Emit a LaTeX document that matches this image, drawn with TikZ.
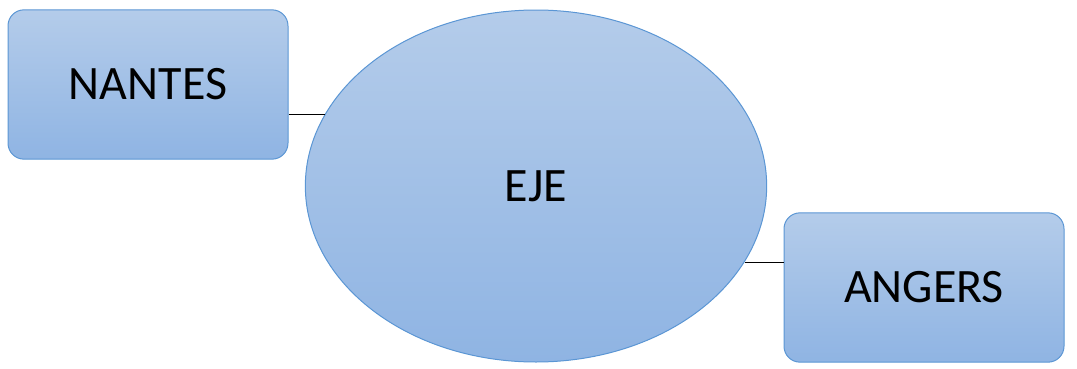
\documentclass[tikz,border=0pt]{standalone}
\usepackage{fontspec}
\setmainfont{Carlito}
\usepackage{xcolor}
\usepackage{tikz}
\usetikzlibrary{positioning, calc, shapes.geometric}
\definecolor{boxtop}{RGB}{180,204,234}
\definecolor{boxbottom}{RGB}{143,180,227}
\definecolor{boxline}{RGB}{91,150,212}

\begin{document}
\begin{tikzpicture}[x=0.75pt, y=-0.75pt, font=\fontsize{36}{43}\selectfont,
    city/.style={rectangle, rounded corners=12pt, draw=boxline, line width=0.75pt,
      top color=boxtop, bottom color=boxbottom, minimum width=210pt, minimum height=112pt},
    hub/.style={ellipse, draw=boxline, line width=0.75pt, top color=boxtop,
      bottom color=boxbottom, minimum width=346pt, minimum height=264pt, inner sep=0pt},
    link/.style={black, line width=0.75pt}]
  \useasboundingbox (0,0) rectangle (1077,368);
  \node[hub] (eje) at (536,186) {EJE};
  \node[city] (nantes) at (148,84.5) {NANTES};
  \node[city] (angers) at (924,287.5) {ANGERS};
  \draw[link] (nantes.-12.1) -- (nantes.-12.1 -| eje.161.2);
  \draw[link] (angers.170.1 -| eje.-20.4) -- (angers.170.1);
\end{tikzpicture}
\end{document}
